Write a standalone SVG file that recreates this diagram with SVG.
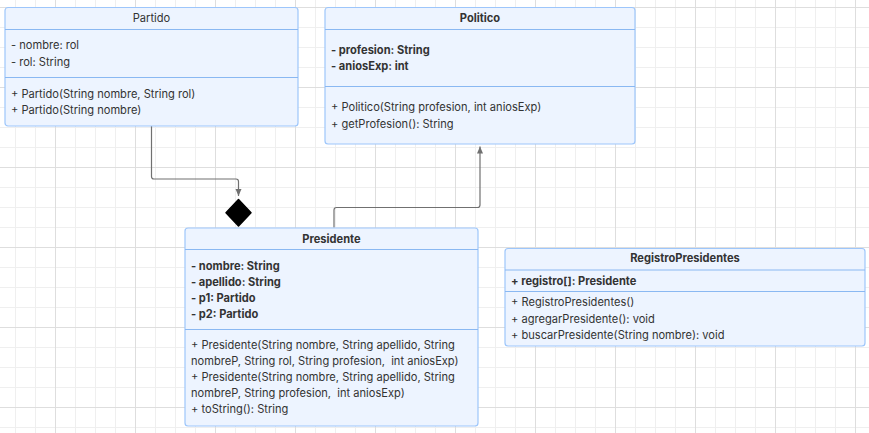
<svg xmlns="http://www.w3.org/2000/svg" width="869" height="433" viewBox="0 0 869 433">
<style>
.box{fill:#edf4ff;stroke:#9dc6fb;stroke-width:1.2}
.sep{stroke:#8ab8f2;stroke-width:1}
.t{font-family:Inter,"Liberation Sans",sans-serif;font-size:11.1px;fill:#333}
.b{font-weight:bold}
.c{text-anchor:middle}
.ln{fill:none;stroke:#707070;stroke-width:1.2}
</style>
<defs>
<pattern id="minor" x="15" y="7" width="20" height="20" patternUnits="userSpaceOnUse">
<path d="M0 0.5H20M0.5 0V20" stroke="#efefef" stroke-width="1" fill="none"/>
</pattern>
<pattern id="major" x="55" y="7" width="80" height="80" patternUnits="userSpaceOnUse">
<path d="M0 0.5H80M0.5 0V80" stroke="#dedede" stroke-width="1" fill="none"/>
</pattern>
<marker id="arr" markerWidth="8" markerHeight="8" refX="7" refY="3.5" orient="auto" markerUnits="userSpaceOnUse">
<path d="M0 0.5L7 3.5L0 6.5Z" fill="#707070"/>
</marker>
</defs>
<rect width="869" height="433" fill="#ffffff"/>
<rect width="869" height="433" fill="url(#minor)"/>
<rect width="869" height="433" fill="url(#major)"/>

<g id="connectors">
<path class="ln" d="M151.5 126V176.5Q151.5 179 154 179H236Q238.5 179 238.5 181.5V196" marker-end="url(#arr)"/>
<path d="M238.5 199.5L251 212.8L238.5 226L226 212.8Z" fill="#000" stroke="#000" stroke-width="1.5" stroke-linejoin="round"/>
<path class="ln" d="M334 227.5V210Q334 207.5 336.5 207.5H477.5Q480 207.5 480 205V146.5" marker-end="url(#arr)"/>
</g>

<g id="Partido">
<rect class="box" x="5" y="7.5" width="293" height="118.5" rx="3"/>
<line class="sep" x1="5" y1="29.5" x2="298" y2="29.5"/>
<line class="sep" x1="5" y1="77.5" x2="298" y2="77.5"/>
<text class="t c" x="151.5" y="22">Partido</text>
<text class="t" x="11" y="49">- nombre: rol</text>
<text class="t" x="11" y="65.5">- rol: String</text>
<text class="t" x="11" y="97.5">+ Partido(String nombre, String rol)</text>
<text class="t" x="11" y="113.5">+ Partido(String nombre)</text>
</g>

<g id="Politico">
<rect class="box" x="325" y="7.5" width="310" height="136.5" rx="3"/>
<line class="sep" x1="325" y1="29.5" x2="635" y2="29.5"/>
<line class="sep" x1="325" y1="86.5" x2="635" y2="86.5"/>
<text class="t b c" x="480" y="22">Politico</text>
<text class="t b" x="331" y="54">- profesion: String</text>
<text class="t b" x="331" y="70">- aniosExp: int</text>
<text class="t" x="331" y="111">+ Politico(String profesion, int aniosExp)</text>
<text class="t" x="331" y="127.5">+ getProfesion(): String</text>
</g>

<g id="Presidente">
<rect class="box" x="185" y="228" width="293" height="198" rx="3"/>
<line class="sep" x1="185" y1="249.5" x2="478" y2="249.5"/>
<line class="sep" x1="185" y1="329.5" x2="478" y2="329.5"/>
<text class="t b c" x="331.5" y="242.5">Presidente</text>
<text class="t b" x="191" y="269.5">- nombre: String</text>
<text class="t b" x="191" y="285.5">- apellido: String</text>
<text class="t b" x="191" y="301.5">- p1: Partido</text>
<text class="t b" x="191" y="317.5">- p2: Partido</text>
<text class="t" x="191" y="349">+ Presidente(String nombre, String apellido, String</text>
<text class="t" x="191" y="365" xml:space="preserve">nombreP, String rol, String profesion,  int aniosExp)</text>
<text class="t" x="191" y="381">+ Presidente(String nombre, String apellido, String</text>
<text class="t" x="191" y="397" xml:space="preserve">nombreP, String profesion,  int aniosExp)</text>
<text class="t" x="191" y="413">+ toString(): String</text>
</g>

<g id="RegistroPresidentes">
<rect class="box" x="505" y="248.5" width="360" height="97.5" rx="3"/>
<line class="sep" x1="505" y1="270" x2="865" y2="270"/>
<line class="sep" x1="505" y1="291.5" x2="865" y2="291.5"/>
<text class="t b c" x="685" y="262">RegistroPresidentes</text>
<text class="t b" x="511" y="284.5">+ registro[]: Presidente</text>
<text class="t" x="511" y="305.5">+ RegistroPresidentes()</text>
<text class="t" x="511" y="322.5">+ agregarPresidente(): void</text>
<text class="t" x="511" y="339">+ buscarPresidente(String nombre): void</text>
</g>
</svg>
